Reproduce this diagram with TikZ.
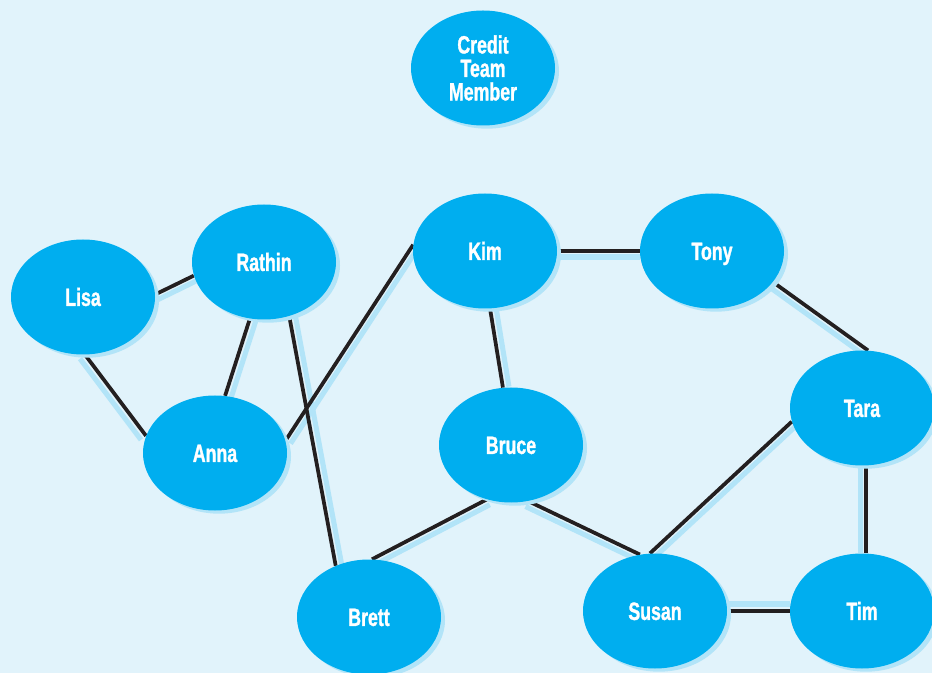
\documentclass[tikz,border=0pt]{standalone}
\usepackage{fontspec}
\newfontfamily\labelfont[FakeStretch=0.71, BoldFeatures={FakeBold=1.2}]{Liberation Sans}
\usetikzlibrary{shapes.geometric,shadows}
\pgfdeclarelayer{background}
\pgfsetlayers{background,main}
\definecolor{paper}{HTML}{E1F3FB}
\definecolor{bubble}{HTML}{00AEEF}
\definecolor{glow}{HTML}{B2E4F8}
\definecolor{ink}{HTML}{231F20}
\tikzset{
  bubblebase/.style={ellipse, fill=bubble, draw=none, inner sep=0pt,
    minimum width=108pt, minimum height=86.25pt,
    text=white, font=\labelfont\bfseries\fontsize{18.75}{17.6}\selectfont,
    general shadow={fill=glow, shadow xshift=3pt, shadow yshift=-2.4pt}},
  person/.style={bubblebase, text height=13.4pt, text depth=0pt},
  link/.style={draw=ink, line width=2.8pt},
  linkglow/.style={draw=glow, line width=3.8pt}
}
\begin{document}
\begin{tikzpicture}[x=0.75pt, y=-0.75pt]
  \useasboundingbox (0,0) rectangle (932,673);

  % people
  \node[bubblebase, align=center] (credit) at (483,68) {Credit\\Team\\Member};
  \node[person] (lisa)   at (83,297)  {Lisa};
  \node[person] (rathin) at (264,262) {Rathin};
  \node[person] (kim)    at (485,251) {Kim};
  \node[person] (tony)   at (712,251) {Tony};
  \node[person] (tara)   at (862,408) {Tara};
  \node[person] (anna)   at (215,453) {Anna};
  \node[person] (bruce)  at (511,445) {Bruce};
  \node[person] (brett)  at (369,617) {Brett};
  \node[person] (susan)  at (655,611) {Susan};
  \node[person] (tim)    at (862,611) {Tim};

  % connections: from / to / glow offset
  \def\connections{
    lisa.2/rathin.-169/3/5,
    lisa.-88/anna.166/-5/4,
    rathin.-104/anna.80/6/2,
    rathin.-65/brett.123/6/-1,
    anna.10/kim.175/5/3,
    kim.0/tony.180/0/6,
    kim.-85/bruce.98/6/-1,
    tony.-27/tara.84/-3.5/5,
    tara.-169/susan.95/4/4.4,
    tara.-86/tim.86/-6/0,
    bruce.-114/brett.87/3/5.3,
    bruce.-73/susan.105/-2.6/5.4,
    susan.0/tim.180/0/-7}
  \begin{pgfonlayer}{background}
    \fill[paper] (0,0) rectangle (932,673);
    \foreach \a/\b/\dx/\dy in \connections {
      \draw[linkglow, transform canvas={shift={(\dx,\dy)}}] (\a) -- (\b);
    }
    \foreach \a/\b/\dx/\dy in \connections {
      \draw[link] (\a) -- (\b);
    }
  \end{pgfonlayer}
\end{tikzpicture}
\end{document}
